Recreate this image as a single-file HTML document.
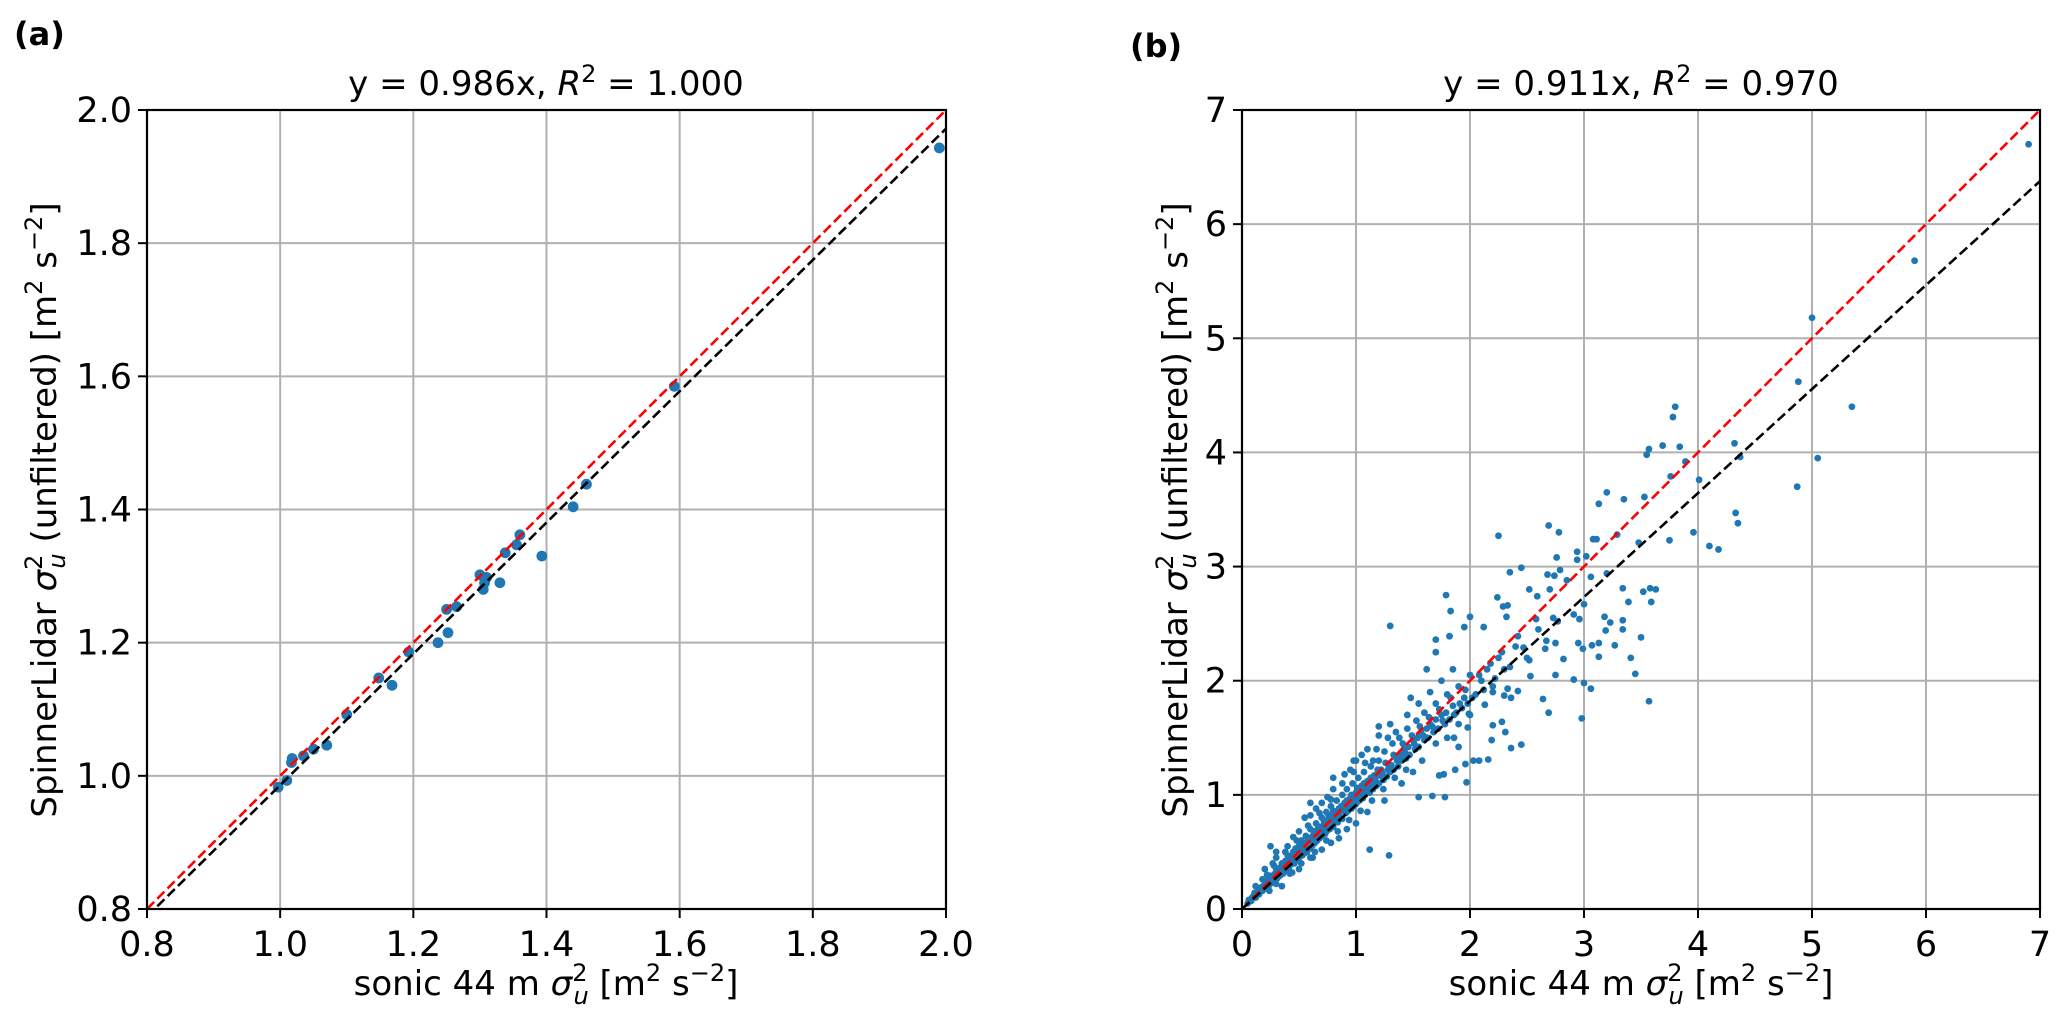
<!DOCTYPE html>
<html><head><meta charset="utf-8"><style>
html,body{margin:0;padding:0;background:#fff;}
svg{display:block;font-family:"DejaVu Sans","Liberation Sans",sans-serif;}
</style></head><body>
<svg id="fig" width="2067" height="1026" viewBox="0 0 2067 1026" xmlns="http://www.w3.org/2000/svg"></svg>
<script>
// ---- Panel (a) data ----
const ticksA = [0.8, 1.0, 1.2, 1.4, 1.6, 1.8, 2.0];
const tickLabelsA = ["0.8","1.0","1.2","1.4","1.6","1.8","2.0"];
const sonicA = [0.997,1.01,1.017,1.018,1.035,1.05,1.07,1.10,1.148,1.168,1.193,1.237,1.25,1.252,1.265,1.30,1.305,1.307,1.31,1.33,1.338,1.355,1.36,1.393,1.44,1.46,1.592,1.99];
const lidarA = [0.983,0.993,1.02,1.026,1.03,1.04,1.046,1.092,1.147,1.136,1.186,1.20,1.25,1.215,1.254,1.302,1.28,1.29,1.298,1.29,1.335,1.347,1.362,1.33,1.404,1.438,1.585,1.943];
const slopeA = 0.986;
// ---- Panel (b) data ----
const ticksB = [0,1,2,3,4,5,6,7];
const tickLabelsB = ["0","1","2","3","4","5","6","7"];
const slopeB = 0.911;
const pairsB = [
[3.78,4.31],[3.8,4.40],[3.55,3.98],[3.57,4.03],[3.69,4.06],[3.84,4.05],[3.89,3.92],[4.32,4.08],[4.37,3.96],[4.01,3.76],[3.76,3.79],[3.2,3.65],[3.13,3.55],[3.35,3.59],[3.53,3.61],[4.33,3.47],[4.35,3.38],[3.96,3.30],[4.1,3.18],[4.18,3.15],[3.75,3.23],[4.87,3.70],[2.69,3.36],[2.78,3.30],[2.25,3.27],[3.08,3.24],[3.11,3.24],[3.29,3.28],[3.48,3.21],[2.94,3.13],[2.76,3.08],[2.94,3.06],[3.02,3.09],[3.06,2.91],[3.2,2.94],[3.34,2.81],[3.58,2.81],[3.63,2.80],[3.52,2.78],[3.39,2.69],[3.59,2.69],[3.50,2.38],[3.41,2.20],[3.45,2.06],[3.57,1.82],[3.06,1.93],[2.98,1.67],[3.0,1.98],[2.91,2.01],[2.69,1.72],[2.64,1.84],[2.75,2.05],[2.45,1.44],[2.36,1.41],[2.19,1.48],[2.31,1.55],[2.28,1.64],[2.20,1.61],[2.16,1.31],[2.08,1.30],[2.03,1.30],[1.96,1.27],[1.97,1.11],[1.87,1.22],[1.78,0.98],[1.67,0.99],[1.55,0.98],[1.29,0.47],[1.12,0.52],[1.30,2.48],[1.79,2.75],[1.83,2.61],[2.0,2.56],[1.95,2.47],[1.70,2.36],[1.70,2.25],[1.82,2.39],[2.12,2.47],[2.24,2.73],[2.29,2.65],[2.33,2.66],[2.32,2.56],[2.35,2.95],[2.45,2.99],[2.52,2.80],[2.59,2.74],[2.70,2.80],[2.79,2.97],[2.68,2.93],[2.74,2.92],[2.85,2.88],[2.77,2.52],[2.58,2.54],[2.73,2.55],[2.91,2.58],[2.96,2.54],[3.0,2.67],[3.18,2.56],[3.23,2.51],[3.19,2.44],[3.34,2.53],[3.34,2.45],[3.27,2.31],[3.13,2.33],[3.07,2.31],[3.13,2.21],[2.95,2.33],[2.99,2.28],[2.82,2.19],[2.67,2.35],[2.75,2.33],[2.66,2.28],[2.52,2.18],[2.47,2.29],[2.42,2.39],[2.53,2.04],[2.42,1.91],[2.33,1.93],[2.36,1.85],[2.30,1.87],[2.20,1.90],[2.13,1.79],[1.99,1.71],[1.98,1.59],[1.90,1.42],[1.86,1.50],[1.77,1.18],[1.73,1.17],
[5.0,5.18],[5.05,3.95],[4.88,4.62],[5.35,4.40],[5.9,5.68],[6.9,6.70],
[0.05,0.05],[0.08,0.07],[0.1,0.11],[0.12,0.1],[0.14,0.15],[0.15,0.13],[0.17,0.19],[0.18,0.16],[0.2,0.22],[0.21,0.18],[0.23,0.25],[0.24,0.21],[0.25,0.29],[0.26,0.23],[0.28,0.3],[0.29,0.26],[0.3,0.35],[0.31,0.27],[0.33,0.36],[0.34,0.3],[0.35,0.4],[0.36,0.31],[0.38,0.42],[0.39,0.34],[0.4,0.47],[0.41,0.36],[0.42,0.44],[0.43,0.39],[0.45,0.5],[0.46,0.4],[0.47,0.53],[0.48,0.43],[0.5,0.55],[0.5,0.45],[0.52,0.6],[0.53,0.47],[0.54,0.57],[0.55,0.49],[0.56,0.64],[0.57,0.5],[0.58,0.62],[0.6,0.53],[0.6,0.7],[0.62,0.56],[0.63,0.68],[0.64,0.58],[0.65,0.75],[0.66,0.6],[0.67,0.72],[0.68,0.62],[0.7,0.8],[0.7,0.64],[0.72,0.77],[0.73,0.66],[0.74,0.85],[0.75,0.69],[0.76,0.82],[0.77,0.7],[0.78,0.9],[0.8,0.72],[0.8,0.86],[0.82,0.78],[0.83,0.95],[0.84,0.76],[0.85,0.88],[0.86,0.8],[0.88,1.0],[0.88,0.79],[0.9,0.93],[0.91,0.84],[0.92,1.05],[0.93,0.86],[0.95,0.97],[0.96,0.88],[0.97,1.1],[0.98,0.9],[1.0,1.02],[1.0,0.92],[1.02,1.15],[1.03,0.95],[1.05,1.08],[1.06,0.97],[1.07,1.2],[1.08,1.0],[1.1,1.12],[1.12,1.02],[1.13,1.25],[1.15,1.05],[1.16,1.17],[1.18,1.08],[1.2,1.3],[1.2,1.1],[1.22,1.22],[1.24,1.13],[1.25,1.38],[1.27,1.16],[1.28,1.27],[1.3,1.2],[1.32,1.45],[1.33,1.22],[1.35,1.33],[1.37,1.25],[1.38,1.5],[1.4,1.3],[1.42,1.4],[1.44,1.32],[1.45,1.58],[1.47,1.35],[1.5,1.48],[1.52,1.4],[1.53,1.65],[1.55,1.42],[1.57,1.55],[1.6,1.48],[1.6,1.72],[1.63,1.5],[1.65,1.62],[1.68,1.55],[1.7,1.8],[1.72,1.58],[1.75,1.7],[1.78,1.62],[1.8,1.88],[1.82,1.66],[1.85,1.78],[1.88,1.72],[1.9,1.95],[1.93,1.76],[1.95,1.85],[1.98,1.8],[2.0,2.05],[2.05,1.88],[2.1,2.0],[2.15,2.1],[2.2,1.95],[2.25,2.2],[2.3,2.1],[2.4,2.3],[2.5,2.2],[2.6,2.45],
[0.2,0.35],[0.3,0.45],[0.4,0.55],[0.5,0.68],[0.6,0.82],[0.7,0.93],[0.8,1.05],[0.9,1.18],[1.0,1.3],[1.1,1.4],[1.2,1.52],[1.3,1.62],[0.35,0.2],[0.5,0.35],[0.6,0.45],[0.7,0.52],[0.85,0.62],[1.0,0.75],[1.1,0.85],[1.25,0.95],[1.4,1.1],[1.5,1.2],[0.3,0.5],[0.55,0.8],[0.45,0.63],[0.65,0.88],[0.75,0.98],[0.95,1.22],[0.12,0.2],[0.22,0.3],[0.27,0.4],[0.62,0.45],[0.78,0.58],[0.92,0.7],[0.24,0.16],[0.44,0.32],[1.05,1.35],[1.15,1.3],[1.35,1.55],[1.45,1.7],[1.55,1.8],[1.65,1.9],[1.75,2.0],[1.85,2.1],[1.58,1.3],[1.7,1.45],[1.8,1.5],[1.9,1.62],[2.0,1.7],[1.62,2.1],[1.48,1.85],[1.2,1.6],[0.25,0.55],[0.6,0.93],[0.8,1.15],[0.98,1.3],
[0.06,0.08],[0.09,0.1],[0.11,0.14],[0.13,0.12],[0.16,0.17],[0.19,0.2],[0.21,0.24],[0.22,0.19],[0.25,0.26],[0.27,0.27],[0.29,0.31],[0.32,0.33],[0.33,0.29],[0.35,0.37],[0.37,0.34],[0.38,0.38],[0.4,0.41],[0.41,0.44],[0.43,0.43],[0.44,0.47],[0.45,0.42],[0.47,0.46],[0.49,0.51],[0.51,0.49],[0.52,0.54],[0.53,0.52],[0.55,0.55],[0.56,0.58],[0.57,0.54],[0.59,0.61],[0.61,0.59],[0.62,0.64],[0.63,0.6],[0.65,0.66],[0.66,0.69],[0.68,0.67],[0.69,0.72],[0.71,0.7],[0.72,0.74],[0.73,0.71],[0.75,0.78],[0.76,0.74],[0.78,0.8],[0.79,0.76],[0.81,0.83],[0.82,0.8],[0.84,0.86],[0.85,0.82],[0.87,0.9],[0.88,0.86],[0.9,0.88],[0.92,0.95],[0.93,0.9],[0.95,0.92],[0.96,1.0],[0.98,0.96],[1.0,0.98],[1.01,1.06],[1.03,1.01],[1.05,1.03],[1.07,1.1],[1.09,1.05],[1.11,1.08],[1.13,1.15],[1.14,1.1],[1.17,1.13],[1.19,1.22],[1.21,1.17],[1.23,1.19],[1.26,1.28],[1.28,1.22],[1.31,1.26],[1.33,1.35],[1.36,1.3],[1.39,1.35],[1.41,1.45],[1.43,1.37],[1.46,1.42],[1.49,1.52],[1.51,1.45],[1.54,1.5],[1.56,1.6],[1.59,1.52],[1.62,1.58],[1.64,1.68],[1.67,1.6],[1.7,1.66],[1.73,1.75],[1.76,1.65],[1.79,1.72],[1.83,1.85],[1.86,1.7],[1.91,1.8],[1.96,1.92],[2.02,1.85],[2.08,2.05],[2.12,1.92],[2.18,2.15],[2.22,2.02],[2.28,2.25],[2.35,2.12],[0.18,0.26],[0.28,0.38],[0.38,0.5],[0.48,0.6],[0.58,0.73],[0.68,0.84],[0.78,0.96],[0.88,1.1],[0.98,1.2],[1.08,1.28],[1.18,1.4],[1.28,1.5],[0.3,0.22],[0.42,0.31],[0.52,0.4],[0.64,0.5],[0.74,0.6],[0.84,0.68],[0.94,0.78],[1.04,0.86],[1.14,0.95],[1.24,1.05],[1.34,1.15],[1.44,1.22]
];

const NS = "http://www.w3.org/2000/svg";
const svg = document.getElementById('fig');
function mk(tag, attrs, parent) {
  const e = document.createElementNS(NS, tag);
  for (const k in attrs) e.setAttribute(k, attrs[k]);
  (parent || svg).appendChild(e);
  return e;
}

function panel(cfg) {
  const g = mk('g', {});
  
  
  const L = cfg.left, R = cfg.right, T = 110, B = 909;
  const sx = v => L + (v - cfg.min) / (cfg.max - cfg.min) * (R - L);
  const sy = v => B - (v - cfg.min) / (cfg.max - cfg.min) * (B - T);
  cfg.ticks.forEach((t, i) => {
    const gx = mk('line', {x1: sx(t), x2: sx(t), y1: T, y2: B, stroke: '#b0b0b0', 'stroke-width': 2}, g);
    
    
    const gy = mk('line', {x1: L, x2: R, y1: sy(t), y2: sy(t), stroke: '#b0b0b0', 'stroke-width': 2}, g);
    
    
  });
  const clip = mk('clipPath', {id: 'clip-' + cfg.name}, g);
  mk('rect', {x: L, y: T, width: R - L, height: B - T}, clip);
  const pg = mk('g', {'clip-path': 'url(#clip-' + cfg.name + ')'}, g);
  cfg.xs.forEach((x, i) => {
    const c = mk('circle', {cx: sx(x), cy: sy(cfg.ys[i]), r: cfg.r, fill: '#1f77b4'}, pg);
    
    
  });
  const one = mk('line', {x1: sx(cfg.min), y1: sy(cfg.min), x2: sx(cfg.max), y2: sy(cfg.max), stroke: '#ff0000', 'stroke-width': 2.6, 'stroke-dasharray': '10,4.5'}, pg);
  
  
  const fit = mk('line', {x1: sx(cfg.min), y1: sy(cfg.min * cfg.slope), x2: sx(cfg.max), y2: sy(cfg.max * cfg.slope), stroke: '#000', 'stroke-width': 2.6, 'stroke-dasharray': '10,4.5'}, pg);
  
  
  const fr = mk('rect', {x: L, y: T, width: R - L, height: B - T, fill: 'none', stroke: '#000', 'stroke-width': 2.2}, g);
  
  
  cfg.ticks.forEach((t, i) => {
    mk('line', {x1: sx(t), x2: sx(t), y1: B, y2: B + 9, stroke: '#000', 'stroke-width': 2}, g);
    mk('line', {x1: L - 9, x2: L, y1: sy(t), y2: sy(t), stroke: '#000', 'stroke-width': 2}, g);
    const xl = mk('text', {x: sx(t), y: B + 47, 'text-anchor': 'middle', 'font-size': 35}, g);
    xl.textContent = cfg.labels[i];
    
    
    const yl = mk('text', {x: L - 15, y: sy(t) + 12, 'text-anchor': 'end', 'font-size': 35}, g);
    yl.textContent = cfg.labels[i];
    
    
  });
}

panel({name: 'panel-a', left: 147, right: 946, min: 0.8, max: 2.0, ticks: ticksA, labels: tickLabelsA, xs: sonicA, ys: lidarA, slope: slopeA, r: 5.4});
panel({name: 'panel-b', left: 1242, right: 2040, min: 0, max: 7, ticks: ticksB, labels: tickLabelsB, xs: pairsB.map(p => p[0]), ys: pairsB.map(p => p[1]), slope: slopeB, r: 3.4});

svg.insertAdjacentHTML('beforeend', `
  <text x="14" y="45" font-size="32" font-weight="bold">(a)</text>
  <text x="1130" y="57" font-size="32" font-weight="bold">(b)</text>
  <text x="546" y="95" font-size="34" text-anchor="middle">y = 0.986x, <tspan font-style="italic">R</tspan><tspan dy="-13" font-size="24">2</tspan><tspan dy="13"> = 1.000</tspan></text>
  <text x="1641" y="95" font-size="34" text-anchor="middle">y = 0.911x, <tspan font-style="italic">R</tspan><tspan dy="-13" font-size="24">2</tspan><tspan dy="13"> = 0.970</tspan></text>
  <text x="546" y="995" font-size="34" text-anchor="middle">sonic 44 m <tspan font-style="italic">σ</tspan><tspan dy="-14" font-size="24">2</tspan><tspan dx="-14" dy="23" font-size="24" font-style="italic">u</tspan><tspan dy="-9"> [m</tspan><tspan dy="-14" font-size="24">2</tspan><tspan dy="14"> s</tspan><tspan dy="-14" font-size="24">−2</tspan><tspan dy="14">]</tspan></text>
  <text x="1641" y="995" font-size="34" text-anchor="middle">sonic 44 m <tspan font-style="italic">σ</tspan><tspan dy="-14" font-size="24">2</tspan><tspan dx="-14" dy="23" font-size="24" font-style="italic">u</tspan><tspan dy="-9"> [m</tspan><tspan dy="-14" font-size="24">2</tspan><tspan dy="14"> s</tspan><tspan dy="-14" font-size="24">−2</tspan><tspan dy="14">]</tspan></text>
  <text transform="translate(56,510) rotate(-90)" font-size="34" text-anchor="middle">SpinnerLidar <tspan font-style="italic">σ</tspan><tspan dy="-14" font-size="24">2</tspan><tspan dx="-14" dy="23" font-size="24" font-style="italic">u</tspan><tspan dy="-9"> (unfiltered) [m</tspan><tspan dy="-14" font-size="24">2</tspan><tspan dy="14"> s</tspan><tspan dy="-14" font-size="24">−2</tspan><tspan dy="14">]</tspan></text>
  <text transform="translate(1187,510) rotate(-90)" font-size="34" text-anchor="middle">SpinnerLidar <tspan font-style="italic">σ</tspan><tspan dy="-14" font-size="24">2</tspan><tspan dx="-14" dy="23" font-size="24" font-style="italic">u</tspan><tspan dy="-9"> (unfiltered) [m</tspan><tspan dy="-14" font-size="24">2</tspan><tspan dy="14"> s</tspan><tspan dy="-14" font-size="24">−2</tspan><tspan dy="14">]</tspan></text>
`);
</script>
</body></html>
